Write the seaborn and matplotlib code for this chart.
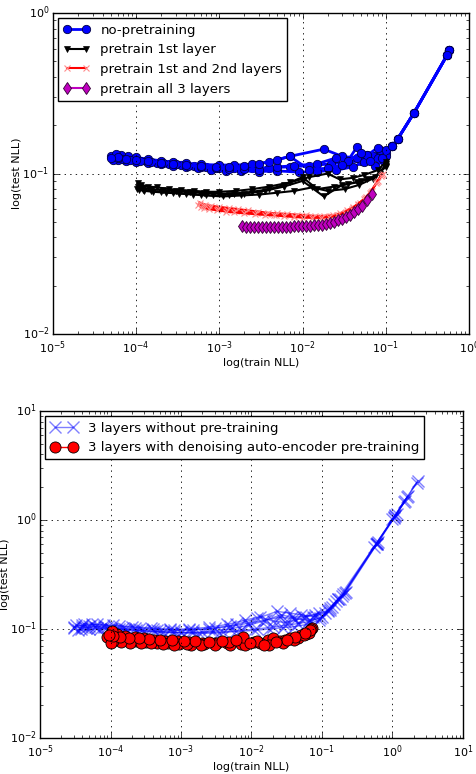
import matplotlib
matplotlib.use("Agg")
import matplotlib.pyplot as plt
import seaborn as sns

# ==============================
# DATA
# ==============================

# --- top panel: no-pretraining (shared early epochs + 5 runs)
nopre_head_x = [0.58, 0.55, 0.22, 0.14, 0.12]
nopre_head_y = [0.59, 0.55, 0.24, 0.165, 0.148]
nopre_runs_x = [
    [0.10, 0.085, 0.07, 0.05, 0.035, 0.022, 0.012, 0.007, 0.004, 0.0025, 0.0015, 0.001,
     7e-4, 5e-4, 3.5e-4, 2.5e-4, 1.8e-4, 1.3e-4, 1e-4, 8e-5, 6.5e-5, 5.5e-5, 5e-5],
    [0.10, 0.08, 0.06, 0.045, 0.03, 0.018, 0.007, 0.004, 0.0025, 0.0015, 0.001, 6e-4,
     4e-4, 2.8e-4, 2e-4, 1.4e-4, 1e-4, 8e-5, 6.5e-5, 5.8e-5],
    [0.095, 0.075, 0.055, 0.04, 0.025, 0.015, 0.009, 0.005, 0.003, 0.0018, 0.0012, 8e-4,
     5.5e-4, 4e-4, 2.8e-4, 2e-4, 1.4e-4, 1e-4, 7.5e-5, 6e-5, 5.2e-5],
    [0.10, 0.08, 0.06, 0.045, 0.035, 0.025, 0.015, 0.008, 0.005, 0.003, 0.002, 0.0013,
     9e-4, 6e-4, 4.2e-4, 3e-4, 2.1e-4, 1.5e-4, 1.1e-4, 8.5e-5, 7e-5, 6e-5],
    [0.09, 0.065, 0.05, 0.03, 0.02, 0.012, 0.007, 0.005, 0.003, 0.002, 0.0013, 9e-4,
     6e-4, 4e-4, 2.8e-4, 2e-4, 1.4e-4, 1e-4, 7.5e-5, 6e-5, 5e-5],
]
nopre_runs_y = [
    [0.135, 0.14, 0.128, 0.12, 0.118, 0.115, 0.112, 0.11, 0.109, 0.108, 0.108, 0.109,
     0.11, 0.111, 0.113, 0.115, 0.117, 0.119, 0.121, 0.123, 0.125, 0.127, 0.128],
    [0.128, 0.125, 0.13, 0.125, 0.128, 0.142, 0.128, 0.118, 0.114, 0.113, 0.113, 0.114,
     0.116, 0.118, 0.12, 0.123, 0.126, 0.128, 0.13, 0.132],
    [0.12, 0.112, 0.118, 0.11, 0.105, 0.103, 0.102, 0.104, 0.103, 0.104, 0.104, 0.106,
     0.108, 0.11, 0.112, 0.114, 0.116, 0.118, 0.12, 0.121, 0.122],
    [0.14, 0.145, 0.13, 0.146, 0.12, 0.125, 0.115, 0.112, 0.11, 0.106, 0.107, 0.107,
     0.108, 0.11, 0.112, 0.114, 0.116, 0.118, 0.12, 0.122, 0.124, 0.125],
    [0.125, 0.12, 0.135, 0.113, 0.108, 0.106, 0.128, 0.122, 0.115, 0.111, 0.11, 0.11,
     0.111, 0.113, 0.115, 0.117, 0.12, 0.122, 0.124, 0.126, 0.125],
]

# --- top panel: pretrain 1st layer (4 runs)
pre1_runs_x = [
    [0.10, 0.08, 0.055, 0.04, 0.028, 0.02, 0.012, 0.007, 0.004, 0.0025, 0.0016, 0.001,
     7e-4, 5e-4, 3.5e-4, 2.5e-4, 1.8e-4, 1.4e-4, 1.15e-4, 1.05e-4],
    [0.10, 0.085, 0.06, 0.045, 0.03, 0.018, 0.01, 0.006, 0.0035, 0.002, 0.0013, 8.5e-4,
     6e-4, 4e-4, 2.8e-4, 2e-4, 1.5e-4, 1.2e-4, 1.02e-4],
    [0.10, 0.075, 0.05, 0.035, 0.024, 0.015, 0.01, 0.006, 0.004, 0.0025, 0.0015, 0.001,
     6.5e-4, 4.5e-4, 3e-4, 2.1e-4, 1.5e-4, 1.2e-4, 1.05e-4],
    [0.10, 0.07, 0.048, 0.032, 0.02, 0.013, 0.008, 0.005, 0.003, 0.0018, 0.0011, 7e-4,
     4.8e-4, 3.3e-4, 2.3e-4, 1.6e-4, 1.25e-4, 1.08e-4],
]
pre1_runs_y = [
    [0.118, 0.105, 0.098, 0.094, 0.092, 0.10, 0.095, 0.088, 0.083, 0.08, 0.078, 0.077,
     0.077, 0.078, 0.079, 0.08, 0.082, 0.083, 0.085, 0.087],
    [0.115, 0.10, 0.092, 0.088, 0.085, 0.072, 0.09, 0.083, 0.078, 0.075, 0.074, 0.073,
     0.074, 0.075, 0.076, 0.077, 0.078, 0.079, 0.08],
    [0.112, 0.095, 0.09, 0.086, 0.083, 0.08, 0.095, 0.085, 0.08, 0.077, 0.075, 0.075,
     0.076, 0.077, 0.078, 0.079, 0.08, 0.081, 0.082],
    [0.11, 0.093, 0.085, 0.08, 0.078, 0.082, 0.078, 0.076, 0.074, 0.073, 0.072, 0.073,
     0.074, 0.075, 0.076, 0.077, 0.078, 0.079],
]

# --- top panel: pretrain 1st and 2nd layers (3 runs)
pre2_runs_x = [
    [0.092, 0.08, 0.068, 0.058, 0.049, 0.041, 0.034, 0.028, 0.023, 0.018, 0.014, 0.011,
     0.0085, 0.0065, 0.005, 0.0038, 0.0029, 0.0022, 0.0017, 0.0013, 0.001, 8e-4, 6.8e-4, 5.8e-4],
    [0.09, 0.078, 0.066, 0.056, 0.047, 0.04, 0.033, 0.027, 0.022, 0.017, 0.0135, 0.0105,
     0.008, 0.0062, 0.0048, 0.0037, 0.0028, 0.0021, 0.0016, 0.00125, 9.6e-4, 7.7e-4, 6.5e-4, 5.6e-4],
    [0.088, 0.077, 0.065, 0.055, 0.046, 0.039, 0.032, 0.026, 0.021, 0.0165, 0.013, 0.01,
     0.0078, 0.006, 0.0046, 0.0035, 0.0027, 0.002, 0.0015, 0.0012, 9.3e-4, 7.5e-4, 6.6e-4, 6e-4],
]
pre2_runs_y = [
    [0.10, 0.09, 0.078, 0.071, 0.066, 0.062, 0.059, 0.0565, 0.055, 0.0545, 0.0545, 0.055,
     0.0555, 0.056, 0.0565, 0.057, 0.058, 0.059, 0.06, 0.061, 0.062, 0.063, 0.064, 0.066],
    [0.098, 0.088, 0.077, 0.07, 0.065, 0.061, 0.058, 0.0555, 0.054, 0.0535, 0.0535, 0.054,
     0.0545, 0.055, 0.0555, 0.056, 0.0565, 0.0575, 0.0585, 0.0595, 0.0605, 0.0615, 0.0625, 0.064],
    [0.097, 0.087, 0.076, 0.069, 0.064, 0.06, 0.057, 0.0548, 0.0535, 0.053, 0.053, 0.0532,
     0.0537, 0.0542, 0.0548, 0.0553, 0.0558, 0.0565, 0.0572, 0.058, 0.059, 0.06, 0.061, 0.062],
]

# --- top panel: pretrain all 3 layers (1 run)
pre3_x = [1.87e-3, 2.08e-3, 2.33e-3, 2.6e-3, 2.91e-3, 3.25e-3, 3.63e-3, 4.05e-3, 4.53e-3,
          5.05e-3, 5.65e-3, 6.3e-3, 7.06e-3, 7.9e-3, 8.8e-3, 9.8e-3, 0.011, 0.0123, 0.0137,
          0.0153, 0.0171, 0.019, 0.0213, 0.024, 0.0266, 0.03, 0.0332, 0.037, 0.0415, 0.046,
          0.0518, 0.059, 0.068]
pre3_y = [0.0468, 0.0466, 0.0465, 0.0464, 0.0463, 0.0463, 0.0463, 0.0463, 0.0464, 0.0464,
          0.0465, 0.0466, 0.0467, 0.0468, 0.047, 0.0471, 0.0472, 0.0474, 0.0476, 0.0478,
          0.048, 0.0487, 0.0495, 0.0502, 0.051, 0.052, 0.0535, 0.0555, 0.058, 0.0605,
          0.063, 0.068, 0.075]

# --- bottom panel: 3 layers without pre-training (6 runs)
nodae_runs_x = [
    [2.3, 1.05, 0.6, 0.2, 0.15, 0.11, 0.075, 0.05, 0.035, 0.023, 0.012, 0.006, 0.003,
     0.0015, 8e-4, 4.5e-4, 2.5e-4, 1.5e-4, 9e-5, 6e-5, 4e-5, 3e-5],
    [1.6, 1.1, 0.55, 0.18, 0.13, 0.1, 0.07, 0.045, 0.03, 0.02, 0.012, 0.007, 0.004,
     0.002, 0.001, 5e-4, 2.8e-4, 1.6e-4, 1e-4, 7e-5, 5e-5, 3.5e-5],
    [1.45, 1.0, 0.6, 0.19, 0.14, 0.095, 0.065, 0.04, 0.025, 0.015, 0.009, 0.005, 0.0025,
     0.0013, 7e-4, 4e-4, 2.2e-4, 1.3e-4, 8e-5, 5.5e-5, 4e-5, 3e-5],
    [1.65, 1.15, 0.62, 0.21, 0.16, 0.12, 0.08, 0.055, 0.038, 0.026, 0.016, 0.009, 0.005,
     0.0028, 0.0015, 8e-4, 4.2e-4, 2.3e-4, 1.3e-4, 8e-5, 5e-5, 3.2e-5],
    [1.5, 1.05, 0.58, 0.17, 0.12, 0.09, 0.06, 0.04, 0.028, 0.018, 0.011, 0.006, 0.0035,
     0.0018, 0.001, 5.5e-4, 3e-4, 1.7e-4, 1e-4, 6.5e-5, 4.5e-5, 3.8e-5],
    [2.2, 1.1, 0.6, 0.22, 0.17, 0.13, 0.09, 0.06, 0.042, 0.03, 0.02, 0.013, 0.008,
     0.0045, 0.0025, 0.0013, 7e-4, 3.8e-4, 2e-4, 1.1e-4, 6.5e-5, 4.2e-5],
]
nodae_runs_y = [
    [2.3, 1.07, 0.62, 0.21, 0.17, 0.14, 0.13, 0.135, 0.14, 0.145, 0.125, 0.11, 0.102,
     0.098, 0.097, 0.098, 0.1, 0.102, 0.104, 0.105, 0.104, 0.103],
    [1.62, 1.1, 0.57, 0.19, 0.155, 0.13, 0.118, 0.112, 0.108, 0.104, 0.1, 0.097, 0.094,
     0.093, 0.093, 0.095, 0.097, 0.099, 0.1, 0.1, 0.099, 0.098],
    [1.45, 1.02, 0.6, 0.2, 0.16, 0.125, 0.12, 0.125, 0.128, 0.12, 0.113, 0.106, 0.1,
     0.098, 0.098, 0.1, 0.103, 0.106, 0.108, 0.11, 0.108, 0.105],
    [1.65, 1.14, 0.63, 0.215, 0.18, 0.145, 0.135, 0.13, 0.128, 0.135, 0.12, 0.108, 0.1,
     0.095, 0.093, 0.093, 0.095, 0.098, 0.101, 0.104, 0.107, 0.108],
    [1.48, 1.05, 0.6, 0.19, 0.15, 0.12, 0.11, 0.105, 0.103, 0.1, 0.097, 0.095, 0.092,
     0.091, 0.092, 0.093, 0.095, 0.097, 0.1, 0.102, 0.103, 0.1],
    [2.2, 1.08, 0.6, 0.22, 0.19, 0.15, 0.14, 0.13, 0.12, 0.115, 0.118, 0.13, 0.12,
     0.11, 0.104, 0.1, 0.1, 0.102, 0.105, 0.108, 0.11, 0.112],
]

# --- bottom panel: 3 layers with denoising auto-encoder pre-training (4 runs)
dae_runs_x = [
    [0.072, 0.065, 0.05, 0.035, 0.025, 0.017, 0.011, 0.007, 0.0045, 0.003, 0.002, 0.0013,
     9e-4, 6e-4, 4.2e-4, 3e-4, 2.2e-4, 1.6e-4, 1.25e-4, 1.05e-4],
    [0.07, 0.06, 0.045, 0.03, 0.02, 0.013, 0.008, 0.005, 0.0032, 0.0021, 0.0014, 9.5e-4,
     6.5e-4, 4.5e-4, 3.2e-4, 2.3e-4, 1.7e-4, 1.3e-4, 1.05e-4, 9e-5],
    [0.065, 0.055, 0.04, 0.028, 0.018, 0.012, 0.0075, 0.0048, 0.003, 0.0019, 0.0012, 8e-4,
     5.5e-4, 3.8e-4, 2.7e-4, 1.9e-4, 1.4e-4, 1.1e-4, 1e-4],
    [0.068, 0.058, 0.042, 0.032, 0.022, 0.015, 0.0095, 0.006, 0.0038, 0.0025, 0.0016, 0.0011,
     7.5e-4, 5e-4, 3.5e-4, 2.5e-4, 1.8e-4, 1.35e-4, 1.1e-4, 9.5e-5],
]
dae_runs_y = [
    [0.103, 0.095, 0.088, 0.082, 0.078, 0.08, 0.076, 0.073, 0.075, 0.074, 0.075, 0.076,
     0.077, 0.078, 0.08, 0.082, 0.084, 0.086, 0.09, 0.095],
    [0.1, 0.09, 0.083, 0.079, 0.082, 0.074, 0.071, 0.072, 0.074, 0.073, 0.072, 0.073,
     0.074, 0.075, 0.076, 0.077, 0.079, 0.081, 0.083, 0.085],
    [0.092, 0.088, 0.08, 0.075, 0.072, 0.078, 0.085, 0.076, 0.071, 0.072, 0.073, 0.072,
     0.073, 0.074, 0.074, 0.075, 0.076, 0.077, 0.075],
    [0.098, 0.092, 0.085, 0.08, 0.076, 0.072, 0.074, 0.08, 0.077, 0.076, 0.077, 0.078,
     0.079, 0.08, 0.081, 0.082, 0.083, 0.084, 0.086, 0.088],
]

top_labels = ["no-pretraining", "pretrain 1st layer",
              "pretrain 1st and 2nd layers", "pretrain all 3 layers"]
bottom_labels = ["3 layers without pre-training",
                 "3 layers with denoising auto-encoder pre-training"]

# ==============================
# STYLE
# ==============================
plt.style.use("classic")
plt.rcParams["figure.facecolor"] = "white"
plt.rcParams["savefig.facecolor"] = "white"
plt.rcParams["font.family"] = ["DejaVu Sans"]
plt.rcParams["xtick.labelsize"] = 8
plt.rcParams["ytick.labelsize"] = 8
plt.rcParams["ytick.major.pad"] = 2.5
plt.rcParams["axes.labelsize"] = 8
plt.rcParams["legend.fontsize"] = 9.5


def draw_runs(ax, runs_x, runs_y, label, **kw):
    for i, (xs, ys) in enumerate(zip(runs_x, runs_y)):
        sns.lineplot(x=xs, y=ys, ax=ax, sort=False, estimator=None,
                     label=label if i == 0 else None, legend=False, **kw)


def style_axes(ax, xlim, ylim):
    ax.set_xscale("log")
    ax.set_yscale("log")
    ax.set_xlim(*xlim)
    ax.set_ylim(*ylim)
    ax.grid(True, which="major", color="k", linestyle=":", linewidth=0.6)
    ax.set_xlabel("log(train NLL)", labelpad=1)
    ax.set_ylabel("log(test NLL)", labelpad=0)


fig = plt.figure(figsize=(4.77, 7.74), dpi=100)

# ==============================
# TOP PANEL
# ==============================
ax1 = fig.add_axes([0.111, 0.5685, 0.872, 0.4145])
ax1.set_xscale("log")
ax1.set_yscale("log")

draw_runs(ax1, [nopre_head_x + r for r in nopre_runs_x],
          [nopre_head_y + r for r in nopre_runs_y], top_labels[0],
          color="b", linewidth=2, marker="o", markersize=6,
          markerfacecolor="b", markeredgecolor="#000044", markeredgewidth=0.6)
draw_runs(ax1, pre1_runs_x, pre1_runs_y, top_labels[1],
          color="k", linewidth=1.5, marker="v", markersize=5,
          markerfacecolor="k", markeredgecolor="k", markeredgewidth=0.5)
draw_runs(ax1, pre2_runs_x, pre2_runs_y, top_labels[2],
          color="r", linewidth=1.5, marker="x", markersize=4,
          markeredgecolor="#ff8c8c", markeredgewidth=0.8)
draw_runs(ax1, [pre3_x], [pre3_y], top_labels[3],
          color="m", linewidth=1.5, marker="d", markersize=6,
          markerfacecolor="m", markeredgecolor="#330033", markeredgewidth=0.6)

style_axes(ax1, (1e-5, 1e0), (1e-2, 1e0))
ax1.legend(loc="upper left", numpoints=2, fancybox=False, frameon=True,
           borderaxespad=0.4, handlelength=2.0)

# ==============================
# BOTTOM PANEL
# ==============================
ax2 = fig.add_axes([0.0839, 0.0465, 0.8867, 0.4225])
ax2.set_xscale("log")
ax2.set_yscale("log")

draw_runs(ax2, nodae_runs_x, nodae_runs_y, bottom_labels[0],
          color="b", alpha=0.5, linewidth=1, marker="x", markersize=8,
          markeredgecolor="b", markeredgewidth=1)
draw_runs(ax2, dae_runs_x, dae_runs_y, bottom_labels[1],
          color="r", linewidth=1, marker="o", markersize=8,
          markerfacecolor="r", markeredgecolor="k", markeredgewidth=0.6)

style_axes(ax2, (1e-5, 1e1), (1e-2, 1e1))
ax2.legend(loc="upper left", numpoints=2, fancybox=False, frameon=True,
           borderaxespad=0.4, handlelength=2.0)

fig.savefig("out.png", dpi=100)
